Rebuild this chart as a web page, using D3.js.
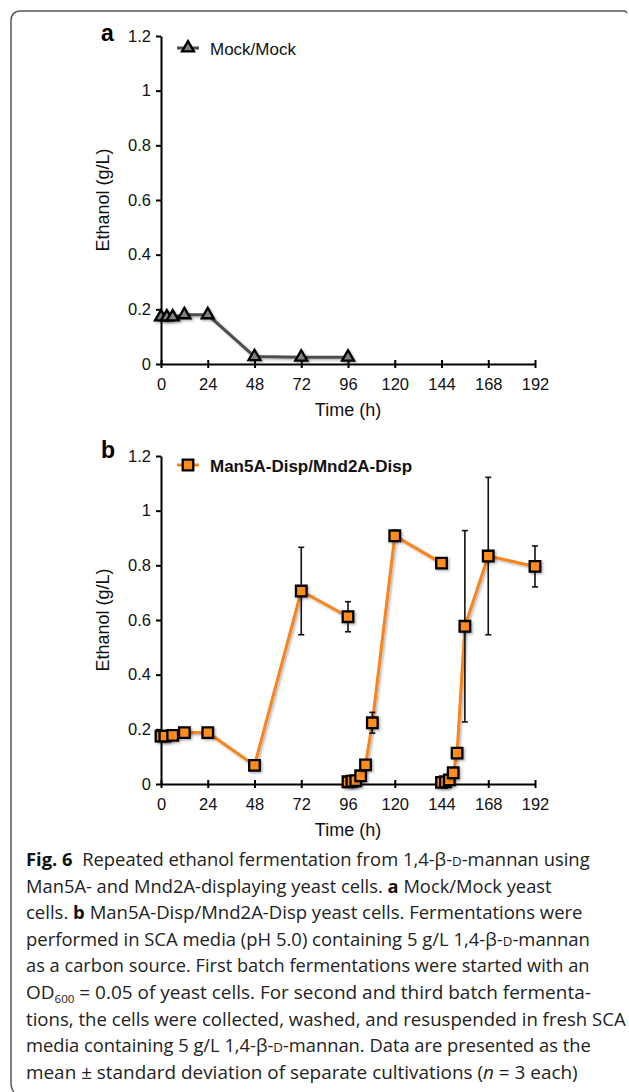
<!DOCTYPE html>
<html>
<head>
<meta charset="utf-8">
<script src="https://cdnjs.cloudflare.com/ajax/libs/d3/7.8.5/d3.min.js"></script>
<style>
  body { margin: 0; background: #fff; }
  svg { display: block; }
  .axis path, .axis line { stroke: #000; stroke-width: 2; }
  .axis text { font-family: 'Liberation Sans', Arial, sans-serif; font-size: 16.5px; fill: #111; }
  .axis-title { font-family: 'Liberation Sans', Arial, sans-serif; font-size: 18px; fill: #111; }
  .caption { font-family: 'Open Sans', sans-serif; font-size: 18px; fill: #222; }
</style>
</head>
<body>
<svg width="629" height="1092"></svg>
<script>
// ticks
const xTicks = [0, 24, 48, 72, 96, 120, 144, 168, 192];
const yTicks = [0, 0.2, 0.4, 0.6, 0.8, 1, 1.2];
const yTickLabels = ['0', '0.2', '0.4', '0.6', '0.8', '1', '1.2'];

// panel a : Mock/Mock
const mockTimes = [0, 3, 6, 12, 24, 48, 72, 96];
const mockEthanol = [0.172, 0.172, 0.172, 0.18, 0.18, 0.027, 0.025, 0.025];

// panel b : Man5A-Disp/Mnd2A-Disp, three batches
const batch1Times = [0, 2, 6, 12, 24, 48, 72, 96];
const batch1Ethanol = [0.175, 0.175, 0.178, 0.188, 0.188, 0.068, 0.706, 0.612];
const batch1Sd = [0, 0, 0, 0, 0, 0, 0.16, 0.055];

const batch2Times = [96, 98, 100, 102.5, 105, 108.5, 120, 144];
const batch2Ethanol = [0.008, 0.01, 0.012, 0.03, 0.07, 0.224, 0.908, 0.808];
const batch2Sd = [0, 0, 0, 0, 0, 0.038, 0.02, 0];

const batch3Times = [144, 146, 148, 150, 152, 156, 168, 192];
const batch3Ethanol = [0.006, 0.008, 0.015, 0.041, 0.113, 0.577, 0.834, 0.796];
const batch3Sd = [0, 0, 0, 0, 0, 0.35, 0.288, 0.075];

const legendA = 'Mock/Mock';
const legendB = 'Man5A-Disp/Mnd2A-Disp';

const captionLines = [
  [['Fig. 6', 'b'], ['  Repeated ethanol fermentation from 1,4-β-', ''], ['D', 'sc'], ['-mannan using', '']],
  [['Man5A- and Mnd2A-displaying yeast cells. ', ''], ['a', 'b'], [' Mock/Mock yeast', '']],
  [['cells. ', ''], ['b', 'b'], [' Man5A-Disp/Mnd2A-Disp yeast cells. Fermentations were', '']],
  [['performed in SCA media (pH 5.0) containing 5 g/L 1,4-β-', ''], ['D', 'sc'], ['-mannan', '']],
  [['as a carbon source. First batch fermentations were started with an', '']],
  [['OD', ''], ['600', 'sub'], [' = 0.05 of yeast cells. For second and third batch fermenta-', 'up']],
  [['tions, the cells were collected, washed, and resuspended in fresh SCA', '']],
  [['media containing 5 g/L 1,4-β-', ''], ['D', 'sc'], ['-mannan. Data are presented as the', '']],
  [['mean ± standard deviation of separate cultivations (', ''], ['n', 'i'], [' = 3 each)', '']]
];
const captionEnds = [590, 552, 583, 590, 590, 591, 626, 591, 578];

const svg = d3.select('svg');
const orange = '#ff8c1a';
const orangeLine = '#f7841e';

const defs = svg.append('defs');
defs.append('filter')
    .attr('id', 'shadow')
    .attr('x', '-50%').attr('y', '-50%').attr('width', '200%').attr('height', '200%')
  .append('feDropShadow')
    .attr('dx', 1.5).attr('dy', 1.5).attr('stdDeviation', 1)
    .attr('flood-color', '#000').attr('flood-opacity', 0.3);

// outer frame
svg.append('path')
  .attr('d', 'M627,13 L625,11 H21 Q11,11 11,21 V1082 Q11,1089 14,1092')
  .attr('fill', 'none')
  .attr('stroke', '#555')
  .attr('stroke-width', 1.5);

const xScale = d3.scaleLinear().domain([0, 192]).range([161, 535]);
const yScaleA = d3.scaleLinear().domain([0, 1.2]).range([364, 36]);
const yScaleB = d3.scaleLinear().domain([0, 1.2]).range([784, 456]);

const triangle = d3.symbol(d3.symbolTriangle).size(62);
const square = d3.symbol(d3.symbolSquare).size(112);

function createAxes(chartArea, yScale) {
  const [y0, y1] = yScale.range();
  const xAxisGroup = chartArea.append('g')
    .attr('class', 'axis')
    .attr('transform', `translate(0, ${y0})`)
    .call(d3.axisBottom(xScale).tickValues(xTicks).tickSizeInner(4).tickSizeOuter(0).tickPadding(10));
  xAxisGroup.selectAll('.tick line').attr('y1', -4);

  chartArea.append('g')
    .attr('class', 'axis')
    .attr('transform', `translate(${xScale(0)}, 0)`)
    .call(d3.axisLeft(yScale).tickValues(yTicks)
      .tickFormat((d, i) => yTickLabels[i])
      .tickSizeInner(5).tickSizeOuter(0).tickPadding(5));

  chartArea.append('text')
    .attr('class', 'axis-title')
    .attr('x', (xScale(0) + xScale(192)) / 2)
    .attr('y', y0 + 52)
    .attr('text-anchor', 'middle')
    .text('Time (h)');

  chartArea.append('text')
    .attr('class', 'axis-title')
    .attr('transform', `translate(109, ${(y0 + y1) / 2}) rotate(-90)`)
    .attr('text-anchor', 'middle')
    .text('Ethanol (g/L)');
}

function renderSeries(chartArea, yScale, times, values, sds, style) {
  const rows = times.map((t, i) => ({ t, v: values[i], sd: sds ? sds[i] : 0 }));
  const lineGenerator = d3.line()
    .x(row => xScale(row.t))
    .y(row => yScale(row.v));

  chartArea.append('path')
    .attr('d', lineGenerator(rows))
    .attr('fill', 'none')
    .attr('stroke', style.line)
    .attr('stroke-width', 3)
    .attr('filter', 'url(#shadow)');

  const bars = chartArea.append('g')
    .selectAll('g')
    .data(rows.filter(row => row.sd > 0))
    .enter()
    .append('g')
      .attr('stroke', '#111')
      .attr('stroke-width', 1.6);
  bars.append('line')
    .attr('x1', row => xScale(row.t)).attr('x2', row => xScale(row.t))
    .attr('y1', row => yScale(row.v - row.sd)).attr('y2', row => yScale(row.v + row.sd));
  [-1, 1].forEach(sign => {
    bars.append('line')
      .attr('x1', row => xScale(row.t) - 3).attr('x2', row => xScale(row.t) + 3)
      .attr('y1', row => yScale(row.v + sign * row.sd)).attr('y2', row => yScale(row.v + sign * row.sd));
  });

  chartArea.append('g')
    .selectAll('path')
    .data(rows)
    .enter()
    .append('path')
      .attr('d', style.symbol)
      .attr('transform', row => `translate(${xScale(row.t)}, ${yScale(row.v)})`)
      .attr('fill', style.fill)
      .attr('stroke', '#000')
      .attr('stroke-width', 2.3)
      .attr('filter', 'url(#shadow)');
}

function renderLegend(chartArea, y, label, style, bold) {
  chartArea.append('line')
    .attr('x1', 177).attr('x2', 199).attr('y1', y).attr('y2', y)
    .attr('stroke', style.line).attr('stroke-width', 3);
  chartArea.append('path')
    .attr('d', style.symbol)
    .attr('transform', `translate(188, ${y})`)
    .attr('fill', style.fill)
    .attr('stroke', '#000')
    .attr('stroke-width', 2.3);
  chartArea.append('text')
    .attr('x', 210)
    .attr('y', y + 6.5)
    .attr('font-family', "'Liberation Sans', Arial, sans-serif")
    .attr('font-size', 17)
    .attr('font-weight', bold ? 'bold' : 'normal')
    .attr('fill', '#111')
    .text(label);
}

const panelLabel = (x, y, t) => svg.append('text')
  .attr('x', x).attr('y', y)
  .attr('font-family', "'Liberation Sans', Arial, sans-serif")
  .attr('font-size', 23)
  .attr('font-weight', 'bold')
  .attr('fill', '#000')
  .text(t);

// panel a
const mockStyle = { line: '#4d4d4d', fill: '#808080', symbol: triangle };
const panelA = svg.append('g').attr('class', 'panel-a');
createAxes(panelA, yScaleA);
renderSeries(panelA, yScaleA, mockTimes, mockEthanol, null, mockStyle);
renderLegend(panelA, 48, legendA, mockStyle, false);
panelLabel(101, 41, 'a');

// panel b
const dispStyle = { line: orangeLine, fill: orange, symbol: square };
const panelB = svg.append('g').attr('class', 'panel-b');
createAxes(panelB, yScaleB);
renderSeries(panelB, yScaleB, batch1Times, batch1Ethanol, batch1Sd, dispStyle);
renderSeries(panelB, yScaleB, batch2Times, batch2Ethanol, batch2Sd, dispStyle);
renderSeries(panelB, yScaleB, batch3Times, batch3Ethanol, batch3Sd, dispStyle);
renderLegend(panelB, 465, legendB, dispStyle, true);
panelLabel(101, 458, 'b');

// caption, each line squeezed to the width it has in the figure
const captionGroup = svg.append('g').attr('class', 'caption-group');
captionLines.forEach((segments, i) => {
  const line = captionGroup.append('text')
    .attr('class', 'caption')
    .attr('xml:space', 'preserve')
    .style('white-space', 'pre');
  segments.forEach(([txt, kind]) => {
    const span = line.append('tspan').text(txt);
    if (kind === 'b') span.attr('font-weight', 'bold').attr('fill', '#111');
    if (kind === 'sc') span.attr('font-size', 13);
    if (kind === 'i') span.attr('font-style', 'italic');
    if (kind === 'sub') span.attr('font-size', 11).attr('dy', 4);
    if (kind === 'up') span.attr('dy', -4);
  });
  const natural = line.node().getComputedTextLength();
  const k = (captionEnds[i] - 26) / natural;
  line.attr('transform', `translate(26, ${866 + i * 26.6}) scale(${k}, 1)`);
});
</script>
</body>
</html>
